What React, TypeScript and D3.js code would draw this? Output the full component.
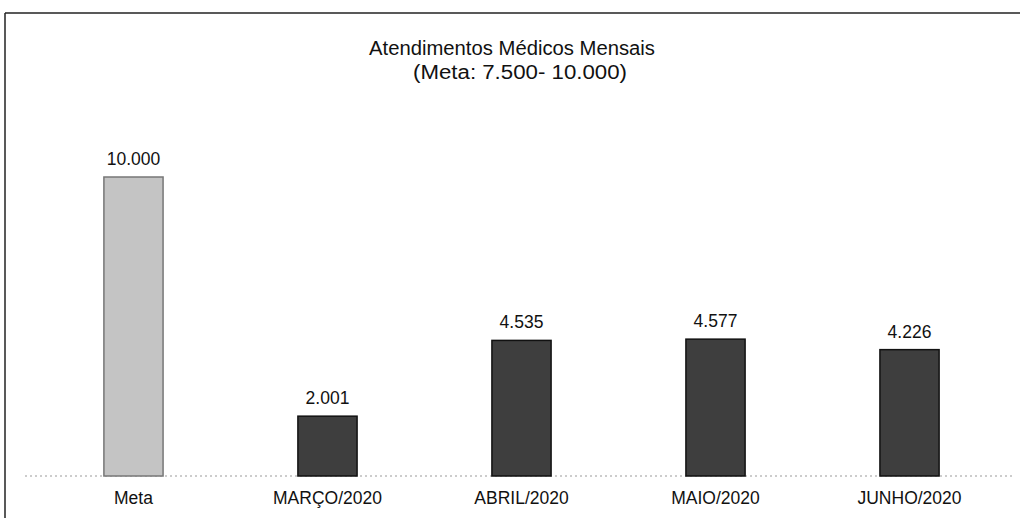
import React from "react";
import * as d3 from "d3";

const categories = ["Meta", "MARÇO/2020", "ABRIL/2020", "MAIO/2020", "JUNHO/2020"];
const values = [10000, 2001, 4535, 4577, 4226];
const barColors = ["#c4c4c4", "#3e3e3e", "#3e3e3e", "#3e3e3e", "#3e3e3e"];
const title = "Atendimentos Médicos Mensais";
const subtitle = "(Meta: 7.500- 10.000)";

const W = 1020;
const H = 518;
const baseY = 476;
const topY = 177;

export default function App() {
  const x = d3.scaleBand<string>().domain(categories).range([36, 1007]).paddingInner(0.695).paddingOuter(0.35);
  const y = d3.scaleLinear().domain([0, 10000]).range([baseY, topY]);
  const fmt = (v: number) => d3.format(",")(v).replace(/,/g, ".");
  const font = "'Liberation Sans', Arial, sans-serif";
  return (
    <svg width={W} height={H} style={{ position: "absolute", left: 0, top: 0, background: "#fff" }}>
      <line x1={5} y1={13} x2={W} y2={13} stroke="#222" strokeWidth={1.5} />
      <line x1={5} y1={13} x2={5} y2={H} stroke="#222" strokeWidth={1.5} />
      <text x={512} y={55} textAnchor="middle" fontFamily={font} fontSize={20} fill="#111" textLength={286} lengthAdjust="spacingAndGlyphs">{title}</text>
      <text x={520} y={79} textAnchor="middle" fontFamily={font} fontSize={20} fill="#111" textLength={214} lengthAdjust="spacingAndGlyphs">{subtitle}</text>
      <line x1={25} y1={baseY} x2={1015} y2={baseY} stroke="#999" strokeWidth={1} strokeDasharray="2,3" />
      {categories.map((c, i) => (
        <g key={c}>
          <rect x={x(c)} y={y(values[i])} width={x.bandwidth()} height={baseY - y(values[i])}
            fill={barColors[i]} stroke={i === 0 ? "#777" : "#111"} strokeWidth={1.5} />
          <text x={(x(c) as number) + x.bandwidth() / 2} y={y(values[i]) - 12} textAnchor="middle"
            fontFamily={font} fontSize={17.5} fill="#111">{fmt(values[i])}</text>
          <text x={(x(c) as number) + x.bandwidth() / 2} y={504} textAnchor="middle"
            fontFamily={font} fontSize={17.5} fill="#111">{c}</text>
        </g>
      ))}
    </svg>
  );
}
